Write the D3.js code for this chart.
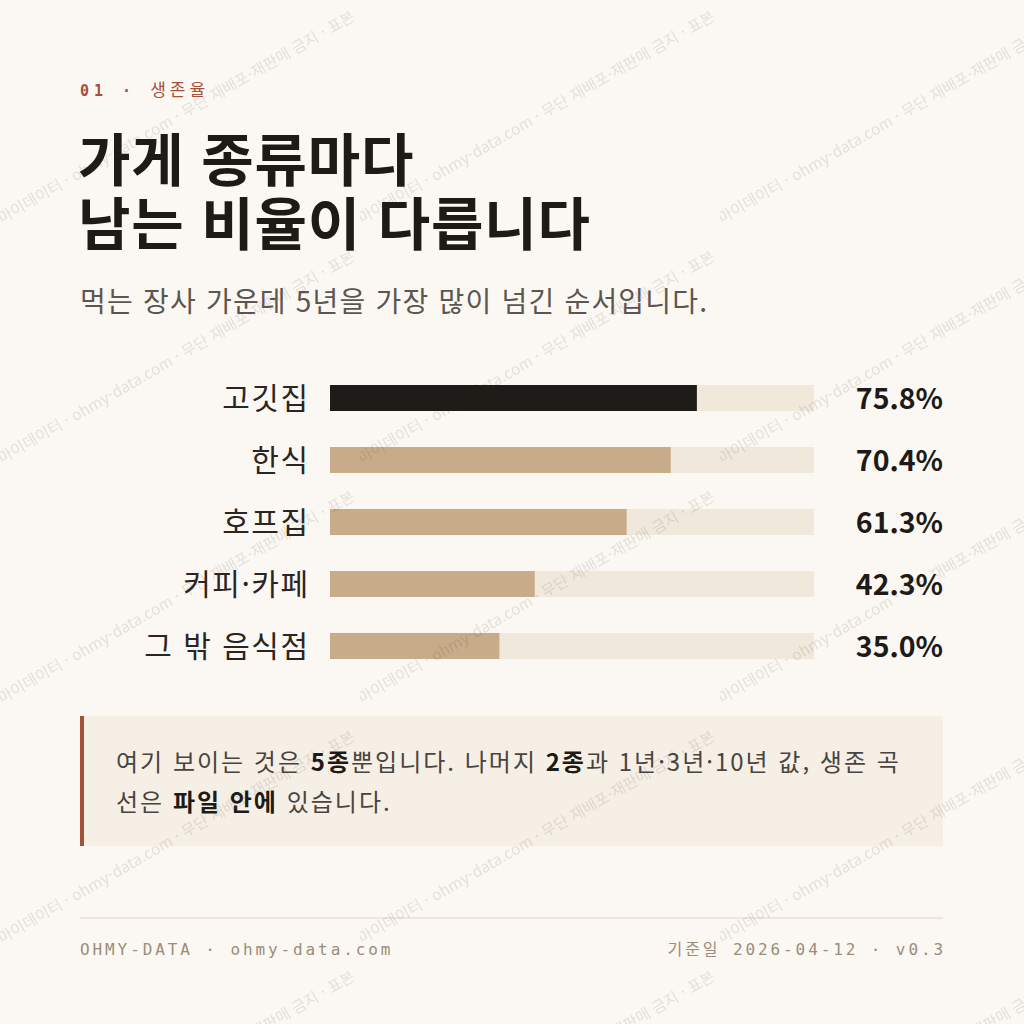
<!DOCTYPE html>
<html lang="ko">
<head>
<meta charset="utf-8">
<script src="https://cdn.jsdelivr.net/npm/d3@7"></script>
<style>
  html, body { margin: 0; padding: 0; background: #fbf8f3; }
  svg { display: block; }
</style>
</head>
<body>
<svg id="chart" width="1024" height="1024"></svg>
<script>
// data
const categories = ["고깃집", "한식", "호프집", "커피·카페", "그 밖 음식점"];
const survival5y = [75.8, 70.4, 61.3, 42.3, 35.0];
const highlight = "고깃집";

const eyebrowNum = "01 · ";
const eyebrowTopic = "생존율";
const titleLines = ["가게 종류마다", "남는 비율이 다릅니다"];
const subtitle = "먹는 장사 가운데 5년을 가장 많이 넘긴 순서입니다.";
const noteLines = [
  [["여기 보이는 것은 ", false], ["5종", true], ["뿐입니다. 나머지 ", false], ["2종", true], ["과 1년·3년·10년 값, 생존 곡", false]],
  [["선은 ", false], ["파일 안에", true], [" 있습니다.", false]]
];
const footLeft = "OHMY-DATA · ohmy-data.com";
const footRight = "기준일 2026-04-12 · v0.3";
const watermark = "마이데이터 · ohmy-data.com · 무단 재배포·재판매 금지 · 표본";

const sans = "'Noto Sans CJK KR', 'Noto Sans', sans-serif";
const mono = "'DejaVu Sans Mono', 'Noto Sans CJK KR', monospace";

const svg = d3.select("#chart");
svg.append("rect").attr("width", 1024).attr("height", 1024).attr("fill", "#fbf8f3");

// header
const eb = svg.append("text")
  .attr("x", 80).attr("y", 96)
  .attr("font-family", mono).attr("font-size", 15)
  .attr("fill", "#a4503a");
eb.append("tspan").attr("font-weight", 700).attr("letter-spacing", 5).text(eyebrowNum);
eb.append("tspan").attr("font-weight", 400).attr("font-size", 17).attr("letter-spacing", 4).text(eyebrowTopic);

svg.append("g").selectAll("text")
  .data(titleLines)
  .enter().append("text")
  .attr("x", 78)
  .attr("y", (d, i) => 181 + i * 64)
  .attr("font-family", sans).attr("font-size", 57).attr("font-weight", 700)
  .attr("letter-spacing", 0.8)
  .attr("fill", "#1e1a17")
  .text(d => d);

svg.append("text")
  .attr("x", 80).attr("y", 312)
  .attr("font-family", sans).attr("font-size", 28).attr("font-weight", 400)
  .attr("letter-spacing", 1.2)
  .attr("fill", "#5c5650")
  .text(subtitle);

// bars: band step 62, bar height 26
const x = d3.scaleLinear().domain([0, 100]).range([330, 814]);
const y = d3.scaleBand().domain(categories)
  .range([385, 385 + 62 * categories.length - 36])
  .paddingInner(36 / 62).paddingOuter(0);

const rows = svg.append("g").selectAll("g")
  .data(categories)
  .enter().append("g");

rows.append("rect")
  .attr("x", x(0)).attr("y", d => y(d))
  .attr("width", x(100) - x(0)).attr("height", y.bandwidth())
  .attr("fill", "#f1e8dc");

rows.append("rect")
  .attr("x", x(0)).attr("y", d => y(d))
  .attr("width", (d, i) => x(survival5y[i]) - x(0)).attr("height", y.bandwidth())
  .attr("fill", d => d === highlight ? "#1e1a17" : "#c8ab88");

rows.append("text")
  .attr("x", 309.5).attr("y", d => y(d) + y.bandwidth() / 2)
  .attr("dy", "0.36em")
  .attr("text-anchor", "end")
  .attr("font-family", sans).attr("font-size", 30).attr("font-weight", 400)
  .attr("letter-spacing", 1.5)
  .attr("fill", "#2a2522")
  .text(d => d);

rows.append("text")
  .attr("x", 943).attr("y", d => y(d) + y.bandwidth() / 2)
  .attr("dy", "0.4em")
  .attr("text-anchor", "end")
  .attr("font-family", sans).attr("font-size", 28.5).attr("font-weight", 700)
  .attr("fill", "#1e1a17")
  .text((d, i) => survival5y[i].toFixed(1) + "%");

// note box
svg.append("rect").attr("x", 80).attr("y", 716).attr("width", 863).attr("height", 130).attr("fill", "#f5efe6");
svg.append("rect").attr("x", 80).attr("y", 716).attr("width", 4).attr("height", 130).attr("fill", "#a4503a");

const note = svg.append("text")
  .attr("font-family", sans).attr("font-size", 24).attr("letter-spacing", 2);
noteLines.forEach((line, li) => {
  line.forEach(([t, bold], k) => {
    const ts = note.append("tspan").text(t)
      .attr("font-weight", bold ? 700 : 400)
      .attr("fill", bold ? "#1e1a17" : "#4a443e");
    if (k === 0) ts.attr("x", 116).attr("y", 771 + li * 40);
  });
});

// footer
svg.append("line").attr("x1", 80).attr("x2", 943).attr("y1", 918).attr("y2", 918)
  .attr("stroke", "#e8e1d6").attr("stroke-width", 1.5);
svg.append("text")
  .attr("x", 80).attr("y", 955)
  .attr("font-family", mono).attr("font-size", 16).attr("letter-spacing", 2.9)
  .attr("fill", "#9b8c7a")
  .text(footLeft);
svg.append("text")
  .attr("x", 946).attr("y", 955).attr("text-anchor", "end")
  .attr("font-family", mono).attr("font-size", 16).attr("letter-spacing", 2.9)
  .attr("fill", "#9b8c7a")
  .text(footRight);

// watermark tiles
const defs = svg.append("defs");
const pat = defs.append("pattern")
  .attr("id", "wm").attr("patternUnits", "userSpaceOnUse")
  .attr("width", 360).attr("height", 240);
pat.append("text")
  .attr("transform", "translate(2,224) rotate(-30)")
  .attr("font-family", sans).attr("font-size", 15.5)
  .attr("fill", "rgba(60,45,30,0.12)")
  .text(watermark);
svg.append("rect").attr("width", 1024).attr("height", 1024).attr("fill", "url(#wm)");
</script>
</body>
</html>
